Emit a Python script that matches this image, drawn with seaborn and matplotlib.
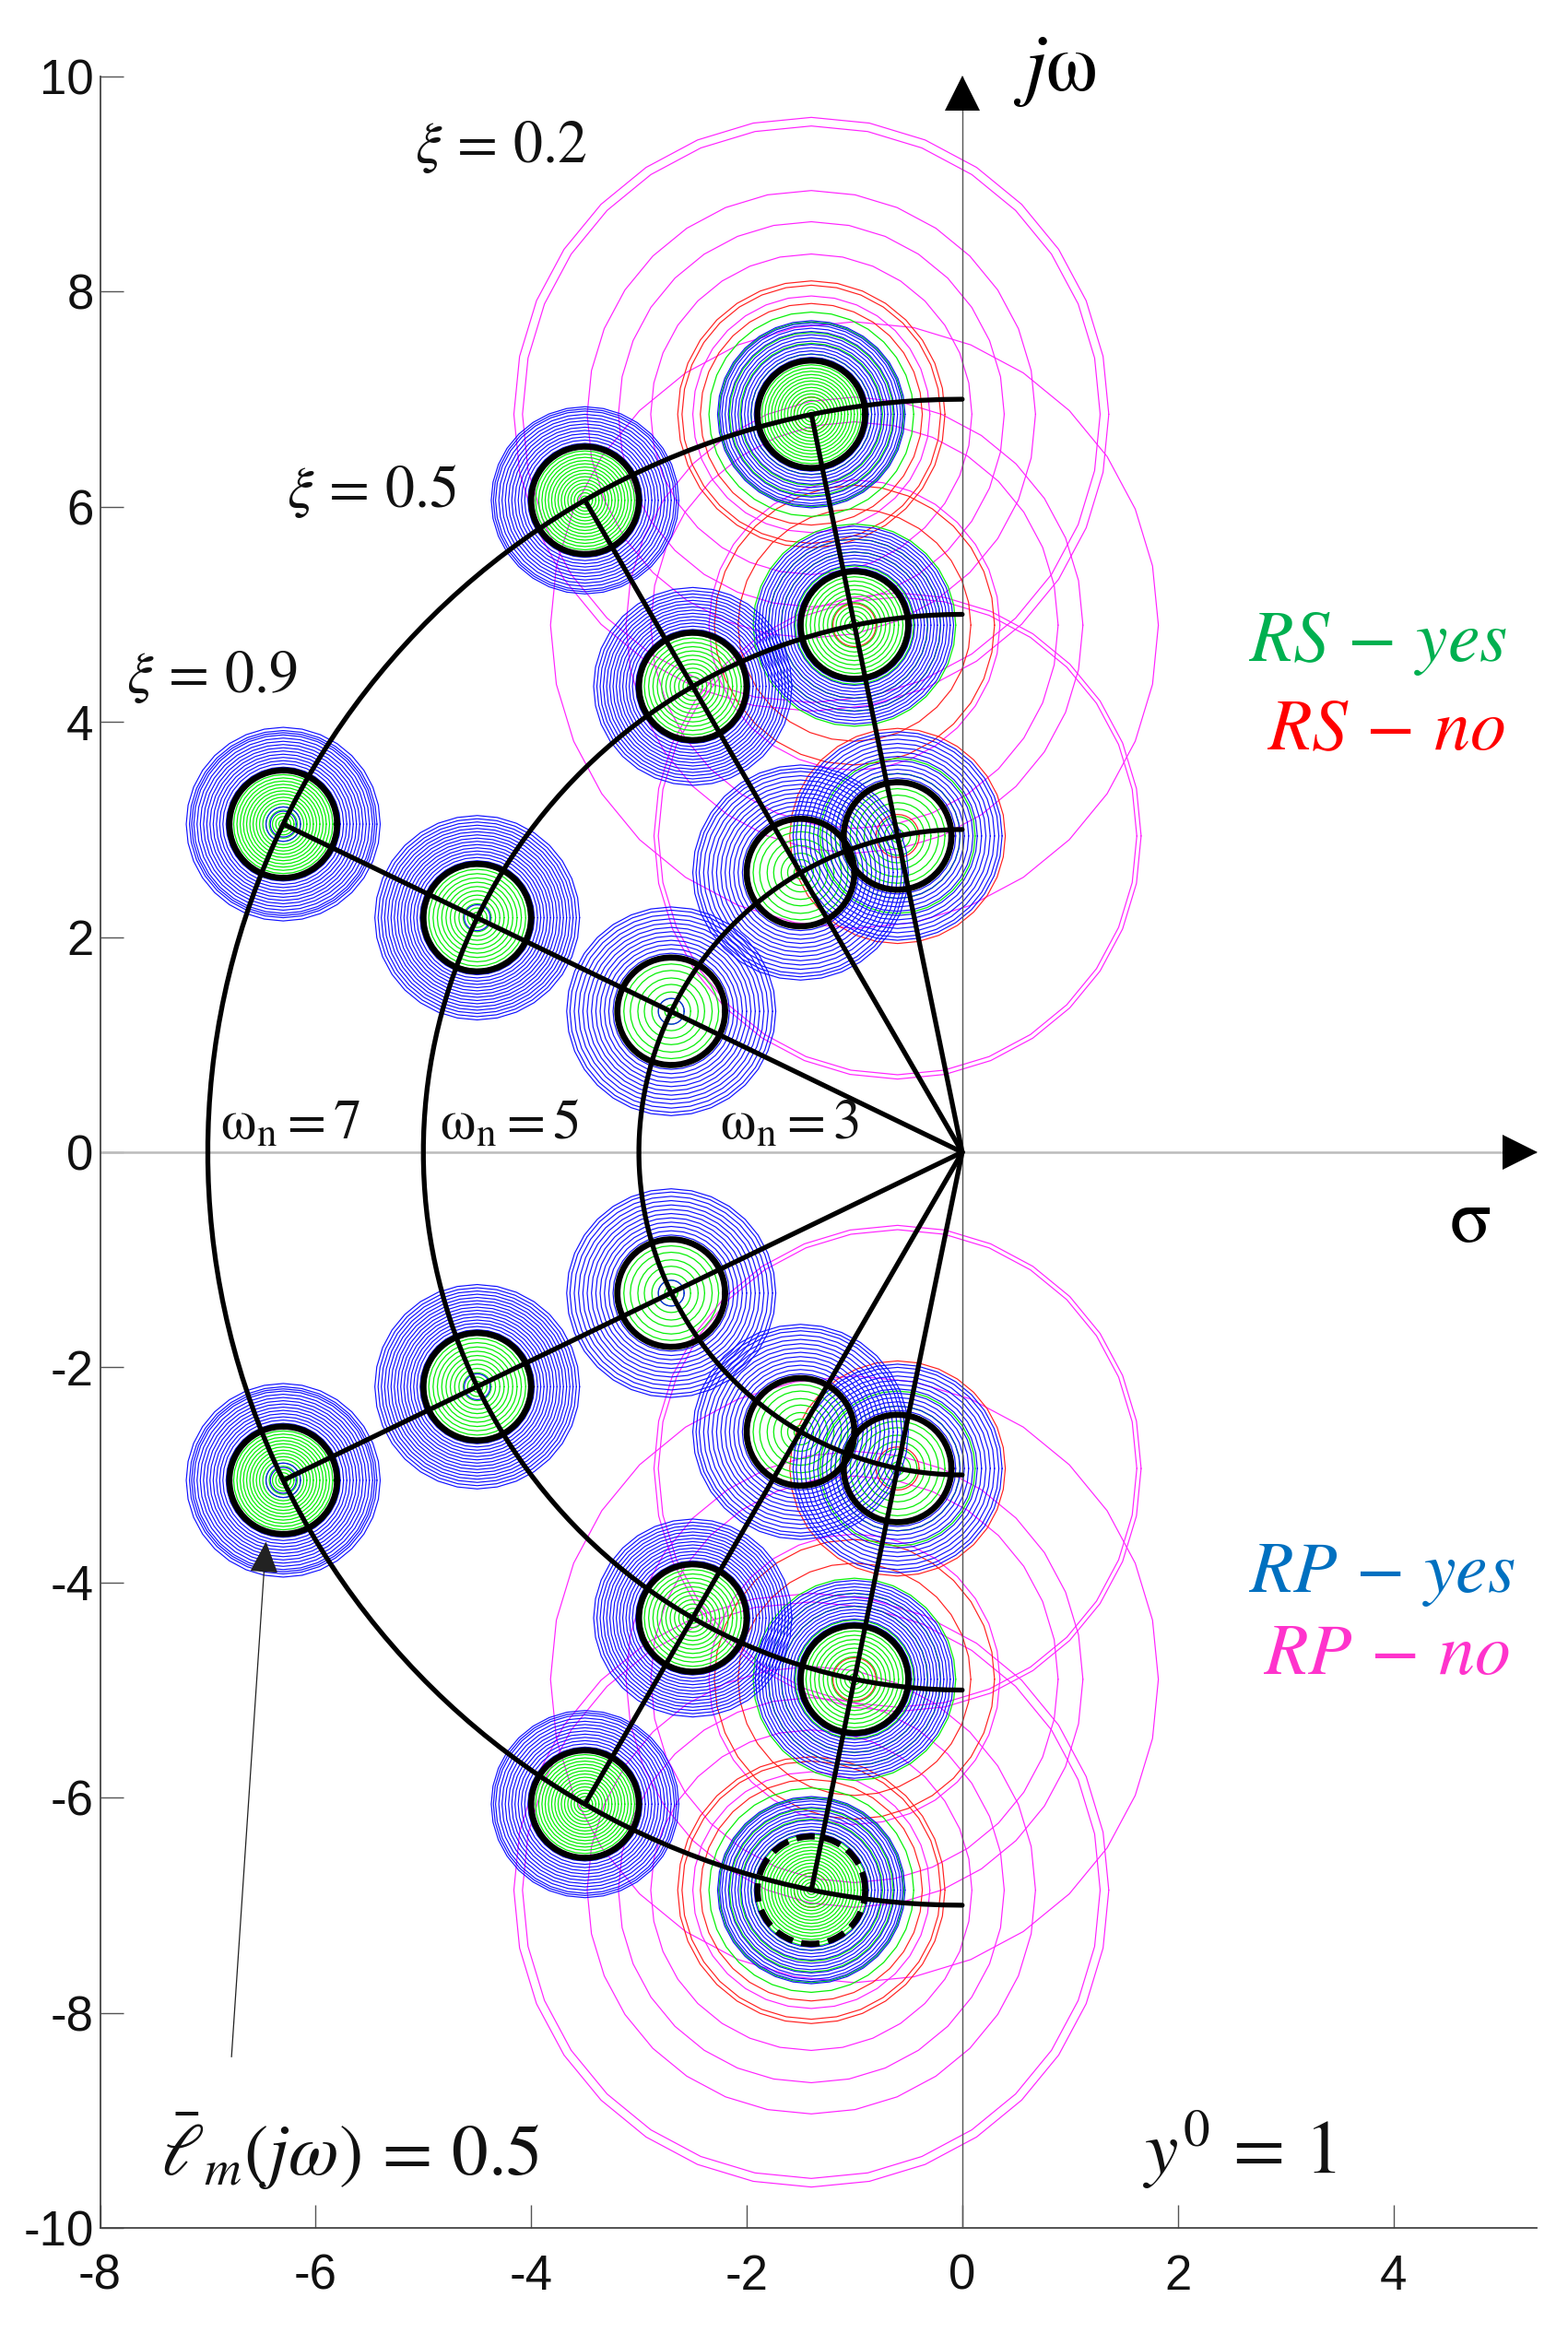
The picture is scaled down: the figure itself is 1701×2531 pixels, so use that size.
import numpy as np
import pandas as pd
import matplotlib
matplotlib.use("Agg")
import matplotlib.pyplot as plt
import seaborn as sns

# natural frequencies and damping ratios
omega_n = [3, 5, 7]
zeta = [0.9, 0.5, 0.2]

# upper half plane poles, one list per omega_n
sigma_w3 = [-2.70, -1.50, -0.60]
jw_w3 = [1.31, 2.60, 2.94]
sigma_w5 = [-4.50, -2.50, -1.00]
jw_w5 = [2.18, 4.33, 4.90]
sigma_w7 = [-6.30, -3.50, -1.40]
jw_w7 = [3.05, 6.06, 6.86]

# contour radii around each pole
green_w3 = [0.06, 0.12, 0.18, 0.25, 0.31, 0.38, 0.44, 0.52]
green_w5 = [0.05, 0.09, 0.13, 0.17, 0.21, 0.25, 0.29, 0.33, 0.37, 0.41, 0.45, 0.48, 0.52]
green_w7 = [0.04, 0.07, 0.10, 0.13, 0.16, 0.19, 0.22, 0.25, 0.28, 0.31, 0.34, 0.37, 0.40, 0.43, 0.46, 0.49, 0.52]
green_low_zeta_w3 = [0.58, 0.72]
green_low_zeta_w5 = [0.55, 0.68, 0.80, 0.94]
green_low_zeta_w7 = [0.56, 0.66, 0.76, 0.86, 0.95]

blue_w3 = [0.12, 0.54, 0.58, 0.62, 0.66, 0.70, 0.74, 0.78, 0.82, 0.86, 0.90, 0.94, 0.97, 1.00]
blue_w5 = [0.12, 0.53, 0.56, 0.59, 0.62, 0.65, 0.68, 0.71, 0.74, 0.77, 0.80, 0.83, 0.86, 0.89, 0.92, 0.95]
blue_w7 = [0.12, 0.16, 0.53, 0.56, 0.59, 0.62, 0.65, 0.68, 0.71, 0.74, 0.77, 0.80, 0.83, 0.85, 0.87, 0.90]
blue_outer_w3 = [0.97, 1.00, 0.97]
blue_outer_w5 = [0.95, 0.93, 0.93]
blue_outer_w7 = [0.90, 0.88, 0.87]

red_w3 = [0.20, 1.00]
red_w5 = [0.20, 1.08, 1.30]
red_w7 = [0.16, 1.03, 1.20, 1.24]

magenta_w3 = [2.22, 2.26]
magenta_w5 = [1.35, 1.89, 2.12, 2.82]
magenta_w7 = [1.10, 1.49, 1.79, 2.08, 2.68, 2.76]

black_radius = 0.5

x_ticks = [-8, -6, -4, -2, 0, 2, 4]
y_ticks = [-10, -8, -6, -4, -2, 0, 2, 4, 6, 8, 10]

sns.set_style("white")
plt.rcParams["font.family"] = ["Liberation Sans", "DejaVu Sans"]
plt.rcParams["mathtext.fontset"] = "stix"
plt.rcParams["axes.unicode_minus"] = False

W, H = 1701, 2531
fig = plt.figure(figsize=(W / 100, H / 100), dpi=100)
ax = fig.add_axes([108.5 / W, 1 - 2417 / H, (1667 - 108.5) / W, (2417 - 83) / H])

sigma_all = {3: sigma_w3, 5: sigma_w5, 7: sigma_w7}
jw_all = {3: jw_w3, 5: jw_w5, 7: jw_w7}
green_all = {3: green_w3, 5: green_w5, 7: green_w7}
green_extra = {3: green_low_zeta_w3, 5: green_low_zeta_w5, 7: green_low_zeta_w7}
blue_all = {3: blue_w3, 5: blue_w5, 7: blue_w7}
blue_outer = {3: blue_outer_w3, 5: blue_outer_w5, 7: blue_outer_w7}
red_all = {3: red_w3, 5: red_w5, 7: red_w7}
magenta_all = {3: magenta_w3, 5: magenta_w5, 7: magenta_w7}

theta = np.linspace(0, 2 * np.pi, 33)


def contour_table(radii_for_pole):
    rows = []
    cid = 0
    for w in omega_n:
        for k, z in enumerate(zeta):
            for sign in (1, -1):
                for r in radii_for_pole(w, k, z):
                    rows.append(pd.DataFrame({
                        "x": sigma_all[w][k] + r * np.cos(theta),
                        "y": sign * jw_all[w][k] + r * np.sin(theta),
                        "id": cid,
                    }))
                    cid += 1
    return pd.concat(rows, ignore_index=True)


def draw_contours(radii_for_pole, color, width):
    sns.lineplot(data=contour_table(radii_for_pole), x="x", y="y", units="id",
                 estimator=None, sort=False, color=color, lw=width, ax=ax, zorder=2)


def magenta_radii(w, k, z):
    return magenta_all[w] if z == 0.2 else []


def red_radii(w, k, z):
    return red_all[w] if z == 0.2 else []


def green_radii(w, k, z):
    return green_all[w] + green_extra[w] if z == 0.2 else green_all[w]


def blue_radii(w, k, z):
    return [r for r in blue_all[w] if r <= blue_outer[w][k] and (r > 0.2 or z == 0.9)]


draw_contours(magenta_radii, "#ff22ff", 0.85)
draw_contours(red_radii, "#ff2020", 0.85)
draw_contours(green_radii, "#08f008", 0.9)
draw_contours(blue_radii, "#1010ff", 0.85)

# constant omega_n arcs
arc_angle = np.linspace(np.pi / 2, 3 * np.pi / 2, 120)
for w in omega_n:
    sns.lineplot(x=w * np.cos(arc_angle), y=w * np.sin(arc_angle), sort=False, estimator=None,
                 color="black", lw=3.8, ax=ax, zorder=4)

# constant damping rays from the origin to the omega_n=7 poles
for k in range(len(zeta)):
    for sign in (1, -1):
        sns.lineplot(x=[0, sigma_w7[k]], y=[0, sign * jw_w7[k]], sort=False, estimator=None,
                     color="black", lw=3.8, ax=ax, zorder=4)

# uncertainty circles, the lowest one is dashed
circle_angle = np.linspace(0, 2 * np.pi, 60)
for w in omega_n:
    for k, z in enumerate(zeta):
        for sign in (1, -1):
            style = (0, (3.0, 1.4)) if (w == 7 and z == 0.2 and sign == -1) else "-"
            sns.lineplot(x=sigma_all[w][k] + black_radius * np.cos(circle_angle),
                         y=sign * jw_all[w][k] + black_radius * np.sin(circle_angle),
                         sort=False, estimator=None, color="black", lw=4.8, linestyle=style,
                         ax=ax, zorder=5)

ax.set_xlim(-8, 5.33)
ax.set_ylim(-10, 10)
ax.set_xlabel("")
ax.set_ylabel("")
ax.set_xticks(x_ticks)
ax.set_yticks(y_ticks)
ax.set_xticklabels([str(v) for v in x_ticks])
ax.set_yticklabels([str(v) for v in y_ticks])
ax.tick_params(axis="both", direction="in", length=18, width=1, color="#555555",
               labelsize=38, labelcolor="#111111")
ax.tick_params(axis="x", pad=20, left=True, bottom=True)
ax.tick_params(axis="y", pad=5, left=True)
sns.despine(ax=ax)
for side in ("left", "bottom"):
    ax.spines[side].set_color("#444444")
    ax.spines[side].set_linewidth(1.3)

# the axes through the origin with their arrow heads
ax.axvline(0, color="#555555", lw=1.0, zorder=3)
ax.axhline(0, color="#bbbbbb", lw=1.8, zorder=1)
ax.plot(0, 9.85, marker="^", ms=27, color="black", mew=0, clip_on=False, zorder=6)
ax.plot(5.18, 0, marker=">", ms=27, color="black", mew=0, clip_on=False, zorder=6)
ax.annotate("", xy=(-6.46, -3.62), xytext=(-6.78, -8.41),
            arrowprops=dict(arrowstyle="-|>,head_width=0.45,head_length=1.0", color="#222222",
                            lw=0.9, mutation_scale=22, shrinkA=0, shrinkB=0), zorder=6)

ax.text(-5.08, 9.20, r"$\xi\,=\,0.2$", fontsize=46, color="#111111", zorder=6)
ax.text(-6.27, 6.00, r"$\xi\,=\,0.5$", fontsize=46, color="#111111", zorder=6)
ax.text(-7.76, 4.28, r"$\xi\,=\,0.9$", fontsize=46, color="#111111", zorder=6)

ax.text(-6.88, 0.12, r"$\mathrm{\omega_n{=}7}$", fontsize=44, color="#111111", zorder=6)
ax.text(-4.85, 0.12, r"$\mathrm{\omega_n{=}5}$", fontsize=44, color="#111111", zorder=6)
ax.text(-2.25, 0.12, r"$\mathrm{\omega_n{=}3}$", fontsize=44, color="#111111", zorder=6)

ax.text(0.47, 9.87, r"$j\mathrm{\omega}$", fontsize=64, color="black", zorder=6, clip_on=False)
ax.text(4.52, -0.83, r"$\mathrm{\sigma}$", fontsize=60, color="black", zorder=6)

ax.text(2.65, 4.57, r"$RS\,-\,yes$", fontsize=56, color="#00b050", zorder=6)
ax.text(2.82, 3.74, r"$RS\,-\,no$", fontsize=56, color="#ff0000", zorder=6)
ax.text(2.65, -4.09, r"$RP\,-\,yes$", fontsize=56, color="#0070c0", zorder=6)
ax.text(2.79, -4.85, r"$RP\,-\,no$", fontsize=56, color="#ff33cc", zorder=6)

ax.text(-7.44, -9.51, r"$\bar{\ell}_m(j\omega)\,=\,0.5$", fontsize=57, color="#111111", zorder=6)
ax.text(1.68, -9.49, r"$y^0\,=\,1$", fontsize=59, color="#111111", zorder=6)

fig.savefig("out.png", dpi=100, facecolor="white")
